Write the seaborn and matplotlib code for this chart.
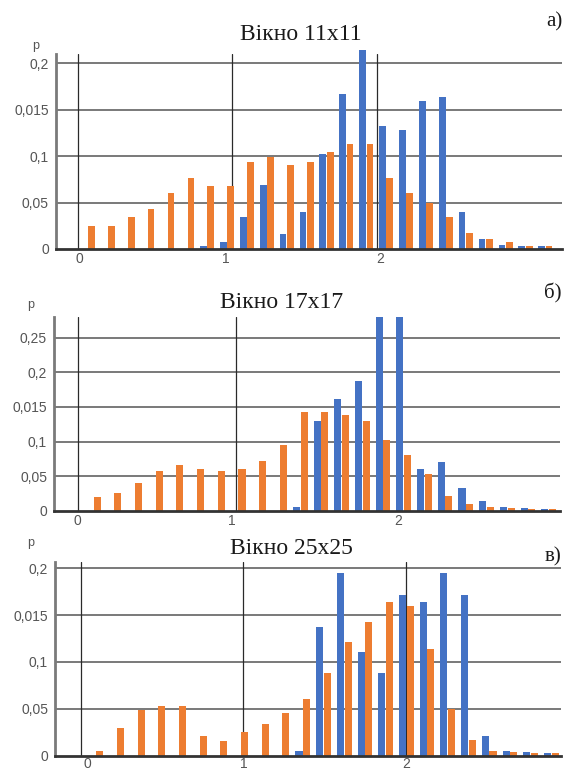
import numpy as np
import pandas as pd
import matplotlib
matplotlib.use("Agg")
import matplotlib.pyplot as plt
import seaborn as sns

# ---- data -------------------------------------------------------------
titles = ["Вікно 11x11", "Вікно 17x17", "Вікно 25x25"]
panel_tags = ["а)", "б)", "в)"]
series_names = ["ряд 1", "ряд 2"]
x_tick_labels = ["0", "1", "2"]

y_ticks_a = [0, 0.05, 0.1, 0.15, 0.2]
y_labels_a = ["0", "0,05", "0,1", "0,015", "0,2"]
y_ticks_b = [0, 0.05, 0.1, 0.15, 0.2, 0.25]
y_labels_b = ["0", "0,05", "0,1", "0,015", "0,2", "0,25"]
y_ticks_c = [0, 0.05, 0.1, 0.15, 0.2]
y_labels_c = ["0", "0,05", "0,1", "0,015", "0,2"]

blue_a = [0, 0, 0, 0, 0, 0, 0.0036, 0.008, 0.034, 0.069, 0.016, 0.040,
          0.102, 0.167, 0.214, 0.132, 0.128, 0.160, 0.164, 0.040, 0.0104,
          0.0043, 0.003, 0.003]
orange_a = [0.025, 0.025, 0.034, 0.043, 0.060, 0.0765, 0.068, 0.068, 0.094,
            0.0995, 0.0905, 0.094, 0.104, 0.113, 0.113, 0.076, 0.060, 0.050,
            0.035, 0.017, 0.0104, 0.008, 0.0035, 0.0035]

blue_b = [0, 0, 0, 0, 0, 0, 0, 0, 0, 0, 0.006, 0.129, 0.161, 0.188, 0.28,
          0.28, 0.061, 0.070, 0.033, 0.014, 0.006, 0.004, 0.003]
orange_b = [0.0197, 0.026, 0.040, 0.058, 0.066, 0.061, 0.058, 0.061, 0.072,
            0.095, 0.143, 0.143, 0.139, 0.130, 0.102, 0.080, 0.053, 0.0216,
            0.0096, 0.006, 0.004, 0.003, 0.003]

blue_c = [0, 0, 0, 0, 0, 0, 0, 0, 0, 0, 0.005, 0.137, 0.195, 0.111, 0.088,
          0.172, 0.164, 0.195, 0.172, 0.021, 0.005, 0.0035, 0.003]
orange_c = [0.005, 0.030, 0.049, 0.053, 0.053, 0.021, 0.016, 0.025, 0.034,
            0.046, 0.060, 0.088, 0.121, 0.143, 0.164, 0.160, 0.114, 0.0495,
            0.017, 0.005, 0.004, 0.003, 0.003]

# ---- styling / layout ---------------------------------------------------
BLUE = "#4472C4"
ORANGE = "#ED7D31"
W, H = 566, 774

sns.set_theme(style="white")
plt.rcParams["font.family"] = ["Liberation Sans", "DejaVu Sans"]

fig = plt.figure(figsize=(W / 100, H / 100), dpi=100)


def px_axes(left, right, top, bottom):
    return [left / W, 1 - bottom / H, (right - left) / W, (bottom - top) / H]


panels = [
    dict(rect=px_axes(55.7, 561.5, 54.1, 249.0), blue=blue_a, orange=orange_a,
         yticks=y_ticks_a, ylabels=y_labels_a, ylim=0.21, xlim=(-1.61, 23.81),
         grid_x=[-0.50, 7.25, 14.52], tick_x=[-0.42, 6.95, 14.69], pad=2.0,
         title_xy=(301, 35), tag_xy=(554, 22), p_xy=(36, 46)),
    dict(rect=px_axes(54.0, 560.0, 316.7, 511.0), blue=blue_b, orange=orange_b,
         yticks=y_ticks_b, ylabels=y_labels_b, ylim=0.28, xlim=(-1.90, 22.55),
         grid_x=[-0.75, 6.88, 14.73], tick_x=[-0.75, 6.69, 14.73], pad=2.5,
         title_xy=(282, 303), tag_xy=(553, 293), p_xy=(31, 305)),
    dict(rect=px_axes(55.0, 561.0, 561.7, 755.7), blue=blue_c, orange=orange_c,
         yticks=y_ticks_c, ylabels=y_labels_c, ylim=0.207, xlim=(-1.97, 22.47),
         grid_x=[-0.70, 7.10, 14.97], tick_x=[-0.39, 7.13, 14.99], pad=1.0,
         title_xy=(291, 548), tag_xy=(553, 557), p_xy=(31, 543)),
]

for i, cfg in enumerate(panels):
    ax = fig.add_axes(cfg["rect"])
    n = len(cfg["blue"])
    df = pd.DataFrame({
        "bin": np.tile(np.arange(n), 2),
        "p": list(cfg["blue"]) + list(cfg["orange"]),
        "series": [series_names[0]] * n + [series_names[1]] * n,
    })
    sns.barplot(data=df, x="bin", y="p", hue="series", hue_order=series_names,
                palette=[BLUE, ORANGE], saturation=1, width=0.74, gap=0.08,
                linewidth=0, legend=False, ax=ax)
    for patch in ax.patches:
        patch.set_zorder(3)
        patch.set_clip_on(False)

    ax.set_xlim(*cfg["xlim"])
    ax.set_ylim(0, cfg["ylim"])
    ax.set_xlabel("")
    ax.set_ylabel("")
    ax.set_xticks(cfg["tick_x"], x_tick_labels)
    ax.set_yticks(cfg["yticks"], cfg["ylabels"])
    ax.tick_params(axis="both", length=0, labelsize=10, labelcolor="#555555")
    ax.tick_params(axis="x", pad=cfg["pad"])
    ax.tick_params(axis="y", pad=5)

    ax.set_axisbelow(True)
    ax.grid(False)
    for yv in cfg["yticks"][1:]:
        ax.axhline(yv, color="#6e6e6e", lw=1.3, zorder=1)
    for xv in cfg["grid_x"]:
        ax.axvline(xv, color="#2a2a2a", lw=0.9, zorder=1)

    for side in ("top", "right"):
        ax.spines[side].set_visible(False)
    ax.spines["left"].set_color("#7a7a7a")
    ax.spines["left"].set_linewidth(2.0)
    ax.spines["bottom"].set_color("#333333")
    ax.spines["bottom"].set_linewidth(2.0)
    ax.spines["bottom"].set_zorder(4)

    tx, ty = cfg["title_xy"]
    fig.text(tx / W, 1 - ty / H, titles[i], ha="center", va="center",
             fontsize=17, family=["Liberation Serif", "DejaVu Serif"],
             color="#1a1a1a")
    gx, gy = cfg["tag_xy"]
    fig.text(gx / W, 1 - gy / H, panel_tags[i], ha="center", va="center",
             fontsize=15, family=["Liberation Serif", "DejaVu Serif"],
             color="#1a1a1a")
    px, py = cfg["p_xy"]
    fig.text(px / W, 1 - py / H, "p", ha="center", va="center",
             fontsize=9, color="#555555")

fig.savefig("out.png", dpi=100)
